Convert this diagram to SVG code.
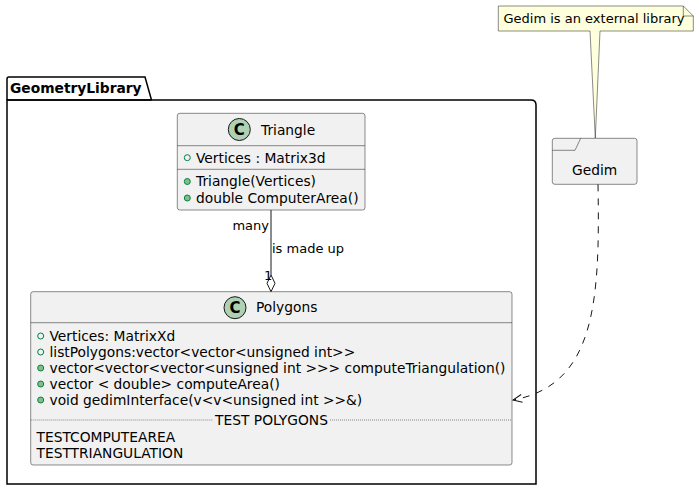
<svg xmlns="http://www.w3.org/2000/svg" width="699" height="491" viewBox="0 0 699 491">
<defs>
<style>
text{font-family:"DejaVu Sans","Noto Sans",sans-serif;fill:#000}
.cls{fill:#F1F1F1;stroke:#181818;stroke-width:0.5}
.sep{stroke:#181818;stroke-width:0.5}
.t14{font-size:13.8px}
.t13{font-size:13px}
.spot{fill:#ADD1B2;stroke:#181818;stroke-width:1}
.spotC{font-size:15px;font-weight:bold;text-anchor:middle}
.pubA{fill:none;stroke:#038048;stroke-width:1}
.pubM{fill:#84BE84;stroke:#038048;stroke-width:1}
</style>
<marker id="open" markerWidth="12" markerHeight="12" refX="10" refY="6" orient="auto" markerUnits="userSpaceOnUse">
<path d="M1,2 L10,6 L1,10" fill="none" stroke="#181818" stroke-width="1"/>
</marker>
</defs>

<g id="GeometryLibrary">
<path d="M7,100 L7,79 Q7,77 9,77 L145,77 L151.5,100" fill="none" stroke="#000" stroke-width="1.5"/>
<path d="M7,100 L531,100 Q536,100 536,105 L536,484 L7,484 Z" fill="none" stroke="#000" stroke-width="1.5"/>
<line x1="7" y1="100" x2="151.5" y2="100" stroke="#000" stroke-width="1.5"/>
<text x="10" y="93" font-size="13.8px" font-weight="bold">GeometryLibrary</text>
</g>

<g id="Triangle">
<rect x="177.3" y="113.3" width="187.7" height="96.7" rx="2.5" class="cls"/>
<circle cx="239.3" cy="129.5" r="11" class="spot"/>
<text x="239.3" y="135" class="spotC">C</text>
<text x="261" y="134.5" class="t14">Triangle</text>
<line x1="177.3" y1="145.7" x2="365" y2="145.7" class="sep"/>
<circle cx="187.3" cy="157.7" r="3" class="pubA"/>
<text x="196" y="162.5" class="t14">Vertices : Matrix3d</text>
<line x1="177.3" y1="169.3" x2="365" y2="169.3" class="sep"/>
<circle cx="187.3" cy="181.5" r="3" class="pubM"/>
<text x="196" y="186" class="t14">Triangle(Vertices)</text>
<circle cx="187.3" cy="198" r="3" class="pubM"/>
<text x="196" y="202.5" class="t14">double ComputerArea()</text>
</g>

<g id="Polygons">
<rect x="30.7" y="291.7" width="481.3" height="173.3" rx="2.5" class="cls"/>
<circle cx="235" cy="307.7" r="11" class="spot"/>
<text x="235" y="313" class="spotC">C</text>
<text x="256" y="312" class="t14">Polygons</text>
<line x1="30.7" y1="322.7" x2="512" y2="322.7" class="sep"/>
<circle cx="40.7" cy="336" r="3" class="pubA"/>
<text x="49.5" y="340.5" class="t14">Vertices: MatrixXd</text>
<circle cx="40.7" cy="352" r="3" class="pubA"/>
<text x="49.5" y="356.5" class="t14">listPolygons:vector&lt;vector&lt;unsigned int&gt;&gt;</text>
<circle cx="40.7" cy="368" r="3" class="pubM"/>
<text x="49.5" y="372.5" class="t14">vector&lt;vector&lt;vector&lt;unsigned int &gt;&gt;&gt; computeTriangulation()</text>
<circle cx="40.7" cy="384" r="3" class="pubM"/>
<text x="49.5" y="388.5" class="t14">vector &lt; double&gt; computeArea()</text>
<circle cx="40.7" cy="400" r="3" class="pubM"/>
<text x="49.5" y="404.5" class="t14">void gedimInterface(v&lt;v&lt;unsigned int &gt;&gt;&amp;)</text>
<line x1="30.7" y1="420" x2="213" y2="420" class="sep" stroke-dasharray="1,1"/>
<line x1="330" y1="420" x2="512" y2="420" class="sep" stroke-dasharray="1,1"/>
<text x="271.5" y="424.5" class="t14" text-anchor="middle">TEST POLYGONS</text>
<text x="36.5" y="441.5" class="t14">TESTCOMPUTEAREA</text>
<text x="36.5" y="457.5" class="t14">TESTTRIANGULATION</text>
</g>

<g id="Gedim">
<rect x="552.3" y="138.3" width="84.7" height="46" rx="2.5" class="cls"/>
<path d="M552.3,150.3 L575,150.3 L580.7,138.3" fill="none" stroke="#181818" stroke-width="0.5"/>
<text x="594.7" y="175" class="t14" text-anchor="middle">Gedim</text>
</g>

<g id="note">
<path d="M498.3,6 L683.3,6 L693.3,16 L693.3,31 L600,31 L595.3,138 L590,31 L498.3,31 Z" fill="#FEFFDD" stroke="#181818" stroke-width="0.5"/>
<path d="M683.3,6 L683.3,16 L693.3,16" fill="none" stroke="#181818" stroke-width="0.5"/>
<text x="503.5" y="23" class="t13">Gedim is an external library</text>
</g>

<g id="connectors">
<line x1="271" y1="210" x2="271" y2="275" stroke="#181818" stroke-width="1"/>
<path d="M271,275 L275,283.3 L271,291.7 L267,283.3 Z" fill="#FFFFFF" stroke="#181818" stroke-width="1"/>
<text x="269" y="229.5" class="t13" text-anchor="end">many</text>
<text x="272" y="252.5" class="t13">is made up</text>
<text x="264" y="280" class="t13">1</text>
<path d="M598,184.3 C600,300 596,385 513,400" fill="none" stroke="#181818" stroke-width="1" stroke-dasharray="7,7" marker-end="url(#open)"/>
</g>
</svg>
